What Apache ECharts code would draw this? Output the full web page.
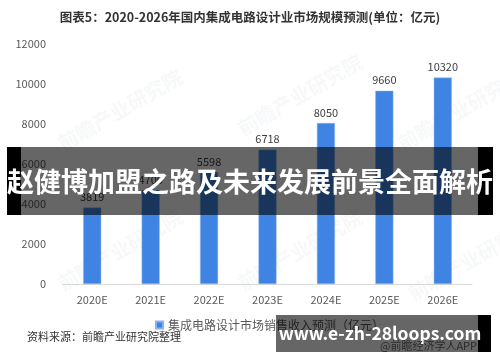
<!DOCTYPE html>
<html><head><meta charset="utf-8">
<script src="https://cdn.jsdelivr.net/npm/echarts@6/dist/echarts.min.js"></script>
<style>html,body{margin:0;padding:0;background:#fff;}#c{width:500px;height:362px;}</style>
</head><body><div id="c"></div>
<script>
var categories = ['2020E','2021E','2022E','2023E','2024E','2025E','2026E'];
var values = [3819, 4700, 5598, 6718, 8050, 9660, 10320];
var yTicks = [0, 2000, 4000, 6000, 8000, 10000, 12000];
var seriesName = '集成电路设计市场销售收入预测（亿元）';
var titleText = '图表5：2020-2026年国内集成电路设计业市场规模预测(单位：亿元)';
var sourceText = '资料来源：前瞻产业研究院整理';
var bannerText = '赵健博加盟之路及未来发展前景全面解析';
var siteText = 'www.e-zh-28loops.com';
var appText = '@前瞻经济学人APP';
var wmText = '前瞻产业研究院';

var font = '"Noto Sans CJK SC", "Noto Sans", sans-serif';
var chart = echarts.init(document.getElementById('c'), null, {renderer: 'canvas'});

var watermarks = [[120,110],[300,95],[460,110],[120,250],[300,250],[470,260]].map(function(p){
  return {type:'text', x:p[0], y:p[1], rotation: Math.PI/6, z: 1,
    style:{text: wmText, fill:'rgba(180,190,200,0.1)', font:'bold 20px ' + font, align:'center', verticalAlign:'middle'}};
});

chart.setOption({
  animation: false,
  textStyle: {fontFamily: font},
  title: {text: titleText, left: 'center', top: 6,
    textStyle: {fontSize: 12.5, fontWeight: 'bold', color: '#333', fontFamily: font}},
  legend: {top: 314, left: 150, itemWidth: 7, itemHeight: 7, icon: 'rect', itemGap: 4,
    textStyle: {fontSize: 12, color: '#595959', fontFamily: font}, data: [seriesName]},
  grid: {left: 63, right: 28, top: 44, bottom: 78},
  xAxis: {type: 'category', data: categories,
    axisLine: {lineStyle: {color: '#d9d9d9'}}, axisTick: {show: false},
    axisLabel: {fontSize: 11, color: '#595959', margin: 10}},
  yAxis: {type: 'value', min: yTicks[0], max: yTicks[yTicks.length-1], interval: 2000,
    axisLine: {show: false}, axisTick: {show: false}, splitLine: {show: false},
    axisLabel: {fontSize: 11, color: '#595959', margin: 17, formatter: function(v){ return String(v); }}},
  series: [{name: seriesName, type: 'bar', data: values, barWidth: 18,
    itemStyle: {color: '#3f84e3', borderColor: '#8ab4ee', borderWidth: 0.5},
    label: {show: true, position: 'top', fontSize: 11, color: '#404040', distance: 5}}],
  graphic: watermarks.concat([
    {type:'text', left: 27, top: 331, z: 10,
      style:{text: sourceText, fill:'#333', font:'11px ' + font}},
    {type:'rect', shape:{x:7, y:147, width:14, height:68}, z: 100, style:{fill:'#000'}},
    {type:'rect', shape:{x:478, y:147, width:15, height:68}, z: 100, style:{fill:'#000'}},
    {type:'rect', shape:{x:21, y:147, width:457, height:68}, z: 100, style:{fill:'rgba(0,0,0,0.6)'}},
    {type:'text', x: 250, y: 182, z: 101,
      style:{text: bannerText, fill:'#fff', font:'bold 27px ' + font, align:'center', verticalAlign:'middle'}},
    {type:'rect', shape:{x:276, y:315, width:202, height:37}, z: 100, style:{fill:'rgba(0,0,0,0.6)'}},
    {type:'rect', shape:{x:478, y:315, width:13, height:37}, z: 100, style:{fill:'#000'}},
    {type:'text', x: 380, y: 333, z: 101,
      style:{text: siteText, fill:'#fff', font:'bold 17.5px ' + font, align:'center', verticalAlign:'middle'}},
    {type:'text', x: 477, y: 346, z: 101,
      style:{text: appText, fill:'#2a2a2a', font:'11px ' + font, align:'right', verticalAlign:'middle'}}
  ])
});
</script></body></html>
